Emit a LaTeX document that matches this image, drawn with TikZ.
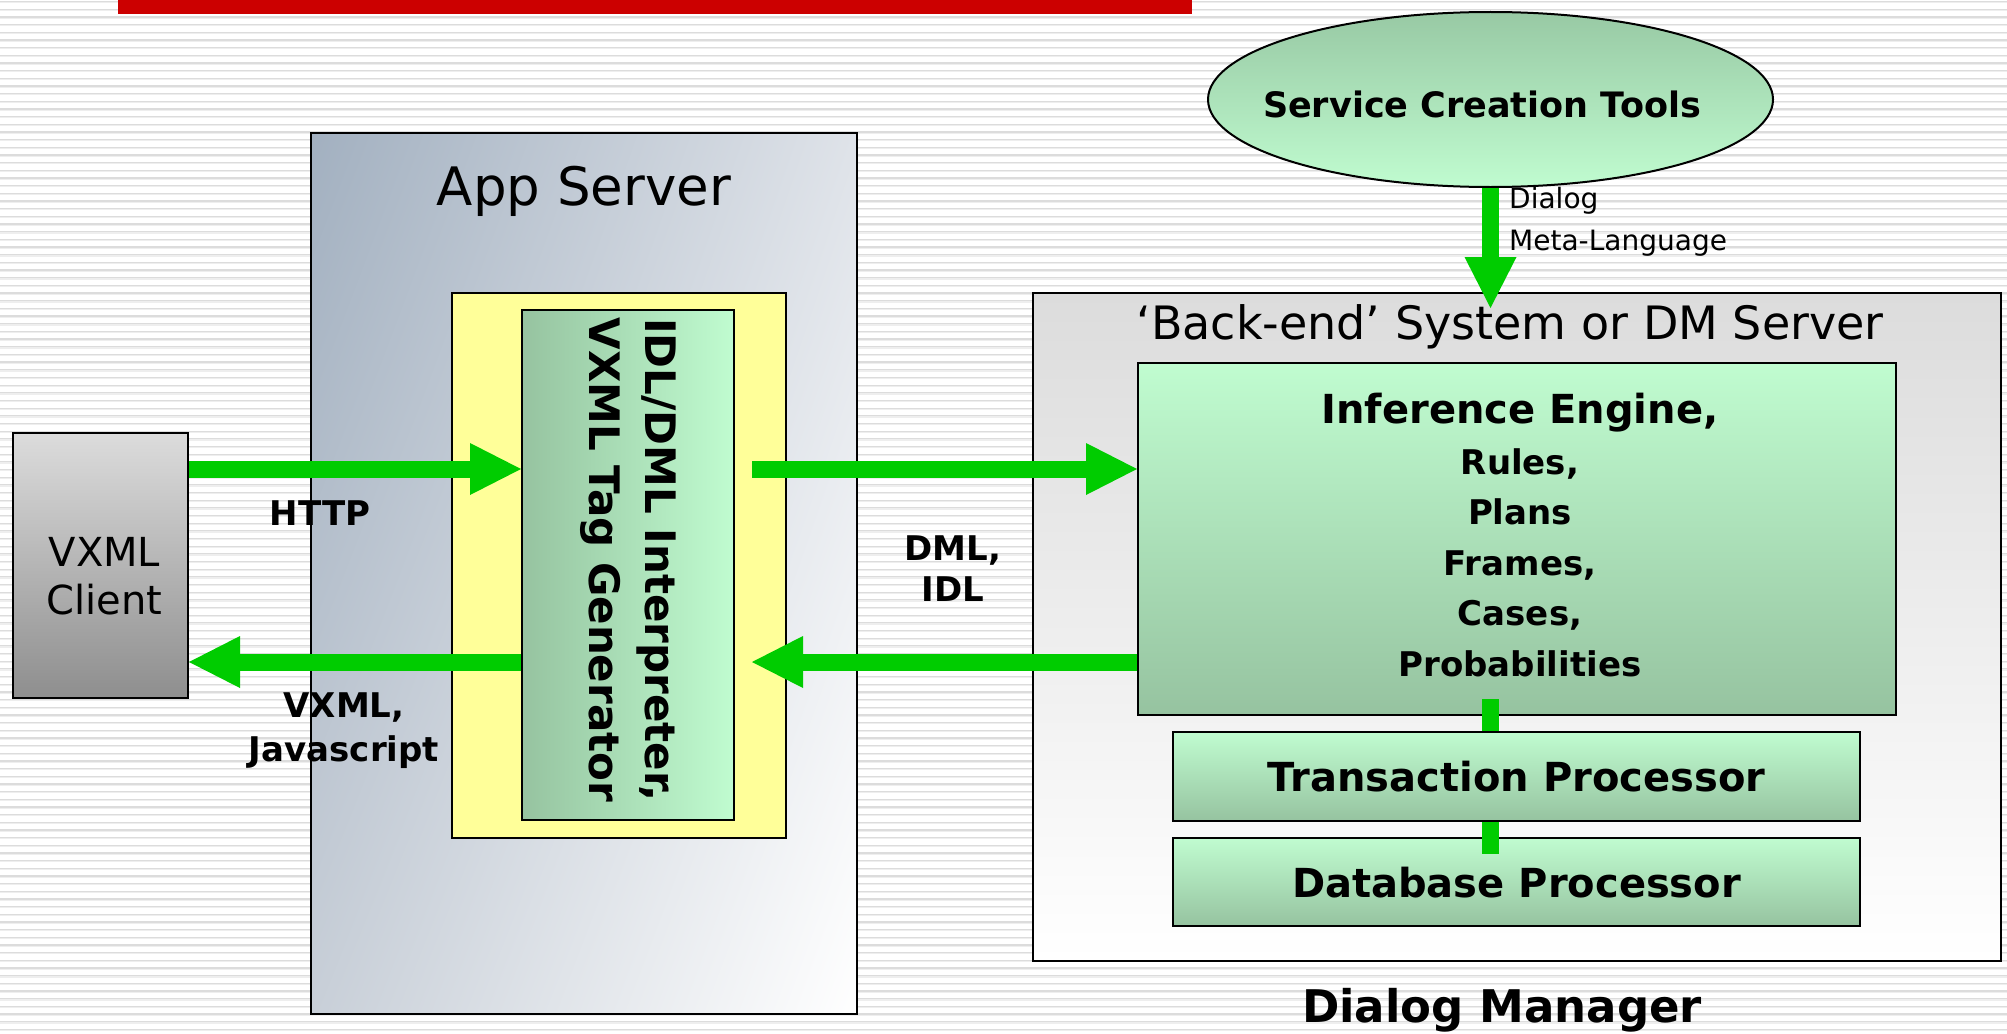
\documentclass[tikz,border=0pt]{standalone}
\usepackage{fontspec}
\setmainfont{DejaVu Sans}
\usetikzlibrary{arrows.meta,shapes.geometric,calc,shadings}

\definecolor{flowgreen}{HTML}{00CC00}
\definecolor{mintlight}{HTML}{C0FCD0}
\definecolor{mintdark}{HTML}{96C3A0}
\definecolor{ovaltop}{HTML}{98C9A4}
\definecolor{padyellow}{HTML}{FFFF99}
\definecolor{stripedark}{HTML}{DCDCDC}
\definecolor{stripelight}{HTML}{EEEEEE}
\definecolor{barred}{HTML}{CC0000}
\definecolor{clienttop}{HTML}{DCDCDC}
\definecolor{clientbot}{HTML}{8E8E8E}
\definecolor{servTL}{HTML}{A2B0C0}
\definecolor{servTR}{HTML}{DFE3E9}
\definecolor{servBL}{HTML}{C8CFD8}
\definecolor{backtop}{HTML}{DCDCDC}

\begin{document}
\begin{tikzpicture}[x=1pt,y=-1pt,
  box/.style={draw=black, line width=2pt, inner sep=0pt, rectangle},
  minty/.style={top color=mintlight, bottom color=mintdark},
  flow/.style={draw=flowgreen, line width=17pt,
    -{Triangle[width=52pt,length=51pt,line width=0pt]}},
  link/.style={draw=flowgreen, line width=17pt},
  lbl/.style={inner sep=0pt, anchor=base, align=center},
  txt/.style={inner sep=0pt, anchor=base},
]
\useasboundingbox (0,0) rectangle (2007,1033);

% striped backdrop
\fill[white] (0,0) rectangle (2007,1033);
\foreach \k in {0,...,134}{
  \fill[stripedark] (0,{1+7.67*\k}) rectangle (2007,{2.2+7.67*\k});
  \fill[stripelight] (0,{2.2+7.67*\k}) rectangle (2007,{3.4+7.67*\k});
}
\fill[barred] (118,0) rectangle (1192,14);

% boxes
\node[box, upper left=servTL, upper right=servTR, lower left=servBL, lower right=white,
      minimum width=546pt, minimum height=881pt] (appserver) at (584,573.5) {};
\node[box, fill=padyellow, minimum width=334pt, minimum height=545pt] (pad) at (619,565.5) {};
\node[box, left color=mintdark, right color=mintlight,
      minimum width=212pt, minimum height=510pt] (interp) at (628,565) {};
\node[box, top color=clienttop, bottom color=clientbot,
      minimum width=175pt, minimum height=265pt] (client) at (100.5,565.5) {};
\node[box, top color=backtop, bottom color=white,
      minimum width=968pt, minimum height=668pt] (backend) at (1517,627) {};
\node[box, minty, minimum width=758pt, minimum height=352pt] (ie) at (1517,539) {};
\node[box, minty, minimum width=687pt, minimum height=89pt] (tp) at (1516.5,776.5) {};
\node[box, minty, minimum width=687pt, minimum height=88pt] (db) at (1516.5,882) {};
\node[ellipse, draw=black, line width=2pt, inner sep=0pt, top color=ovaltop, bottom color=mintlight,
      minimum width=565pt, minimum height=175pt] (sct) at (1490.5,99.5) {};

% reference rows and columns for the connectors
\coordinate (rowA) at (0,469);
\coordinate (rowB) at (0,662);
\coordinate (colx) at (1490.5,0);
\coordinate (dmtip) at (1490.5,308);

% connectors
\draw[flow] (client.east |- rowA) -- (interp.west |- rowA);
\draw[flow] (interp.west |- rowB) -- (client.east |- rowB);
\draw[flow] ($(interp.east |- rowA)+(17pt,0)$) -- (ie.west |- rowA);
\draw[flow] (ie.west |- rowB) -- ($(interp.east |- rowB)+(17pt,0)$);
\draw[flow] (sct.south) -- (dmtip);
\draw[link] ($(ie.south -| colx)+(0,17pt)$) -- (tp.north -| colx);
\draw[link] (tp.south -| colx) -- ($(db.north -| colx)+(0,-17pt)$);

% texts (multi-line nodes sit on the baseline of their last line)
\node[txt, font=\fontsize{53}{64}\selectfont] (apptitle) at (584,205) {App Server};
\node[txt, font=\fontsize{46}{55}\selectfont] (backtitle) at (1510,339) {‘Back-end’ System or DM Server};
\node[inner sep=0pt, rotate=-90, align=center, font=\bfseries\fontsize{42}{56}\selectfont]
  (interptext) at (628,560) {IDL/DML Interpreter,\\VXML Tag Generator};
\node[lbl, font=\fontsize{40}{48}\selectfont] (clienttext) at (104.5,614) {VXML\\Client};
\node[lbl, font=\bfseries\fontsize{34}{44}\selectfont] (httplbl) at (320,525) {HTTP};
\node[lbl, font=\bfseries\fontsize{34}{44}\selectfont] (vxmllbl) at (344,761) {VXML,\\Javascript};
\node[lbl, font=\bfseries\fontsize{34}{41}\selectfont] (dmllbl) at (953,601) {DML,\\IDL};
\node[txt, font=\bfseries\fontsize{35}{42}\selectfont] (scttext) at (1482,117) {Service Creation Tools};
\node[inner sep=0pt, anchor=base west, align=left, font=\fontsize{28}{42}\selectfont]
  (metatext) at (1509,250) {Dialog\\Meta-Language};
\node[lbl, font=\bfseries\fontsize{34}{50.5}\selectfont] (ietext) at (1520,676)
  {{\fontsize{40}{50.5}\selectfont Inference Engine,}\\Rules,\\Plans\\Frames,\\Cases,\\Probabilities};
\node[txt, font=\bfseries\fontsize{40}{48}\selectfont] (tptext) at (1516.5,791) {Transaction Processor};
\node[txt, font=\bfseries\fontsize{40}{48}\selectfont] (dbtext) at (1516.5,897) {Database Processor};
\node[txt, font=\bfseries\fontsize{45}{54}\selectfont] (dmname) at (1502,1022) {Dialog Manager};
\end{tikzpicture}
\end{document}
